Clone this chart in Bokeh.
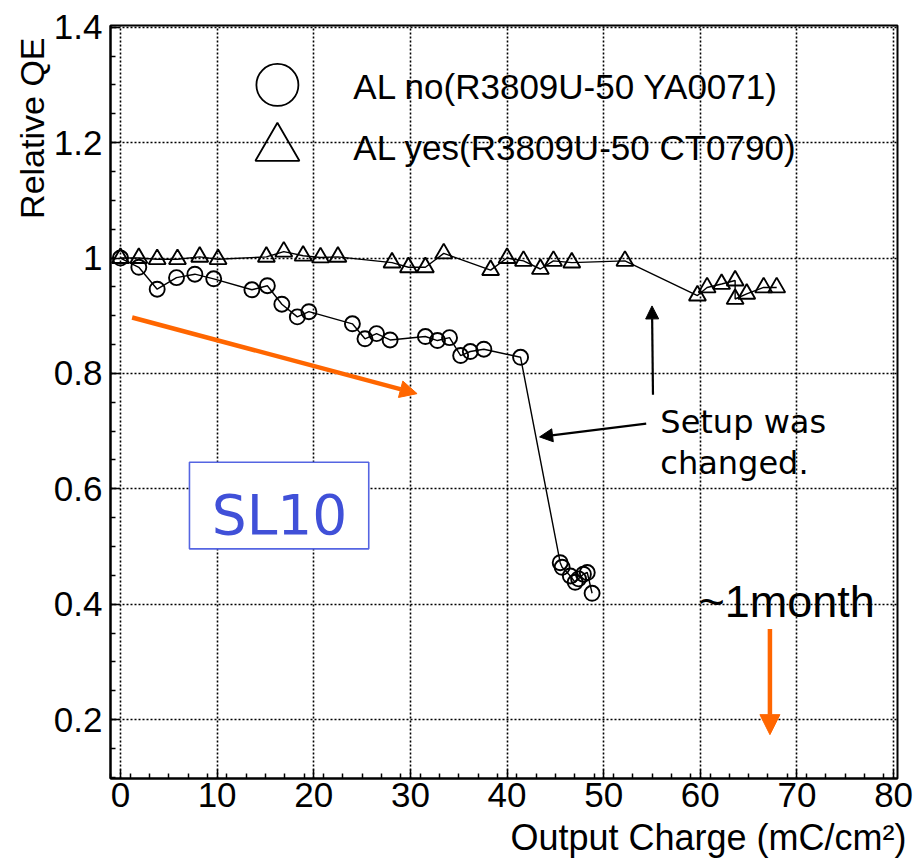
from bokeh.plotting import figure
from bokeh.models import (Range1d, FixedTicker, Arrow, NormalHead, Label,
                          BoxAnnotation, Title)
from bokeh.embed import file_html
from bokeh.resources import INLINE

# ---------------- data ----------------
charge_al_no = [0.0, 1.9, 3.8, 5.8, 7.7, 9.65, 13.6, 15.2, 16.7, 18.3, 19.5,
                24.0, 25.3, 26.5, 27.9, 31.55, 32.8, 34.05, 35.2, 36.2, 37.6,
                41.4, 45.5, 45.7, 46.55, 47.05, 47.4, 47.9, 48.3, 48.8]
qe_al_no = [1.0, 0.984, 0.946, 0.966, 0.972, 0.964, 0.945, 0.952, 0.920, 0.898, 0.907,
            0.886, 0.860, 0.869, 0.858, 0.864, 0.857, 0.862, 0.831, 0.838, 0.842,
            0.828, 0.472, 0.464, 0.449, 0.438, 0.444, 0.452, 0.455, 0.419]

charge_al_yes = [0.0, 1.9, 3.8, 5.9, 8.2, 10.1, 15.1, 16.9, 18.9, 20.7, 22.5,
                 28.1, 29.8, 31.55, 33.45, 38.3, 40.0, 41.7, 43.45, 44.8, 46.7,
                 52.2, 59.7, 60.7, 62.2, 63.6, 63.6, 64.8, 66.55, 67.9]
qe_al_yes = [1.0, 1.0, 0.998, 0.998, 1.002, 0.998, 1.002, 1.011, 1.004, 1.001, 1.002,
             0.992, 0.984, 0.984, 1.008, 0.979, 1.0, 0.995, 0.981, 0.995, 0.992,
             0.995, 0.935, 0.949, 0.955, 0.961, 0.929, 0.938, 0.949, 0.949]

series_labels = ["AL  no(R3809U-50 YA0071)", "AL yes(R3809U-50 CT0790)"]
x_title = "Output Charge (mC/cm²)"
y_title = "Relative QE"

x_ticks = [0, 10, 20, 30, 40, 50, 60, 70, 80]
x_tick_labels = ["0", "10", "20", "30", "40", "50", "60", "70", "80"]
x_minor = [v / 2 for v in range(-2, 162, 4)]
y_ticks = [0.2, 0.4, 0.6, 0.8, 1.0, 1.2, 1.4]
y_tick_labels = ["0.2", "0.4", "0.6", "0.8", "1", "1.2", "1.4"]
y_minor = [round(0.1 + 0.05 * i, 2) for i in range(0, 27)]

# ---------------- style ----------------
FONT = "Liberation Sans"
ORANGE = "#FF6600"
BLUE_TXT = "#4050D8"
BLUE_BOX = "#5565E2"

p = figure(width=924, height=866, output_backend="svg", toolbar_location=None,
           x_range=Range1d(-1.03, 80.4), y_range=Range1d(0.098, 1.403),
           min_border_left=110, min_border_right=27, min_border_top=25,
           min_border_bottom=88)
p.background_fill_color = "white"
p.border_fill_color = "white"
p.outline_line_color = "black"
p.outline_line_width = 2

for ax in (p.xaxis[0], p.yaxis[0]):
    ax.axis_line_width = 2
    ax.axis_line_color = "black"
    ax.major_tick_in = 9
    ax.major_tick_out = 0
    ax.minor_tick_in = 5
    ax.minor_tick_out = 0
    ax.major_tick_line_color = "black"
    ax.minor_tick_line_color = "black"
    ax.major_tick_line_width = 1.5
    ax.minor_tick_line_width = 1.5
    ax.major_label_text_font = FONT
    ax.major_label_text_font_size = "35px"
    ax.major_label_text_color = "black"

p.xaxis.ticker = FixedTicker(ticks=x_ticks, minor_ticks=x_minor)
p.yaxis.ticker = FixedTicker(ticks=y_ticks, minor_ticks=y_minor)
p.xaxis.major_label_overrides = {t: s for t, s in zip(x_ticks, x_tick_labels)}
p.yaxis.major_label_overrides = {t: s for t, s in zip(y_ticks, y_tick_labels)}
p.xaxis.major_label_standoff = 4
p.yaxis.major_label_standoff = 8

for g in (p.xgrid[0], p.ygrid[0]):
    g.grid_line_color = "black"
    g.grid_line_width = 1.6
    g.grid_line_dash = "2 2"
p.xgrid.ticker = FixedTicker(ticks=x_ticks)
p.ygrid.ticker = FixedTicker(ticks=y_ticks)

# ---------------- axis titles (right / top aligned, ROOT style) ----------------
p.add_layout(Title(text=x_title, align="right", text_font=FONT, text_font_size="36px",
                   text_font_style="normal", text_color="black", standoff=10,
                   offset=-9), "below")
p.add_layout(Title(text=y_title, align="right", text_font=FONT, text_font_size="34px",
                   text_font_style="normal", text_color="black", standoff=0,
                   offset=12), "left")

# ---------------- data series ----------------
p.line(charge_al_no, qe_al_no, line_color="black", line_width=1.4)
p.scatter(charge_al_no, qe_al_no, marker="circle", size=15, fill_color=None,
          line_color="black", line_width=1.9)
p.line(charge_al_yes, qe_al_yes, line_color="black", line_width=1.4)
p.scatter(charge_al_yes, qe_al_yes, marker="triangle", size=17, fill_color=None,
          line_color="black", line_width=1.9)

# ---------------- legend (drawn by hand, big symbols) ----------------
LEG_SYM_X = 16.24
LEG_TXT_X = 24.1
LEG_Y = [1.300, 1.1905]
LEG_TXT_Y = [1.298, 1.192]
p.scatter([LEG_SYM_X], [LEG_Y[0]], marker="circle", size=42, fill_color=None,
          line_color="black", line_width=1.8)
p.scatter([LEG_SYM_X], [LEG_Y[1]], marker="triangle", size=44, fill_color=None,
          line_color="black", line_width=1.8)
for lab, ly in zip(series_labels, LEG_TXT_Y):
    p.add_layout(Label(x=LEG_TXT_X, y=ly, text=lab, text_font=FONT,
                       text_font_size="35px", text_baseline="middle",
                       text_color="black"))

# ---------------- annotations ----------------
p.add_layout(Arrow(end=NormalHead(size=17, fill_color=ORANGE, line_color=ORANGE),
                   x_start=1.21, y_start=0.897, x_end=30.69, y_end=0.765,
                   line_color=ORANGE, line_width=4.5))
p.add_layout(Arrow(end=NormalHead(size=20, fill_color=ORANGE, line_color=ORANGE),
                   x_start=67.2, y_start=0.357, x_end=67.2, y_end=0.174,
                   line_color=ORANGE, line_width=4.5))
p.add_layout(Arrow(end=NormalHead(size=13, fill_color="black", line_color="black"),
                   x_start=55.1, y_start=0.763, x_end=55.0, y_end=0.917,
                   line_color="black", line_width=2.2))
p.add_layout(Arrow(end=NormalHead(size=13, fill_color="black", line_color="black"),
                   x_start=54.4, y_start=0.713, x_end=43.37, y_end=0.690,
                   line_color="black", line_width=2.2))

p.add_layout(Label(x=55.86, y=0.715, text="Setup was", text_font="DejaVu Sans",
                   text_font_size="32px", text_baseline="middle", text_color="black"))
p.add_layout(Label(x=55.86, y=0.644, text="changed.", text_font="DejaVu Sans",
                   text_font_size="32px", text_baseline="middle", text_color="black"))
p.add_layout(Label(x=59.8, y=0.405, text="~1month", text_font=FONT,
                   text_font_size="45px", text_baseline="middle", text_color="black"))

p.add_layout(BoxAnnotation(left=7.14, right=25.69, top=0.646, bottom=0.496,
                           fill_color="white", fill_alpha=1.0,
                           line_color=BLUE_BOX, line_width=1.6, line_alpha=1.0))
p.add_layout(Label(x=9.45, y=0.554, text="SL10", text_font="DejaVu Sans",
                   text_font_size="55px", text_baseline="middle", text_color=BLUE_TXT))

open("out.html", "w").write(file_html(p, INLINE))
